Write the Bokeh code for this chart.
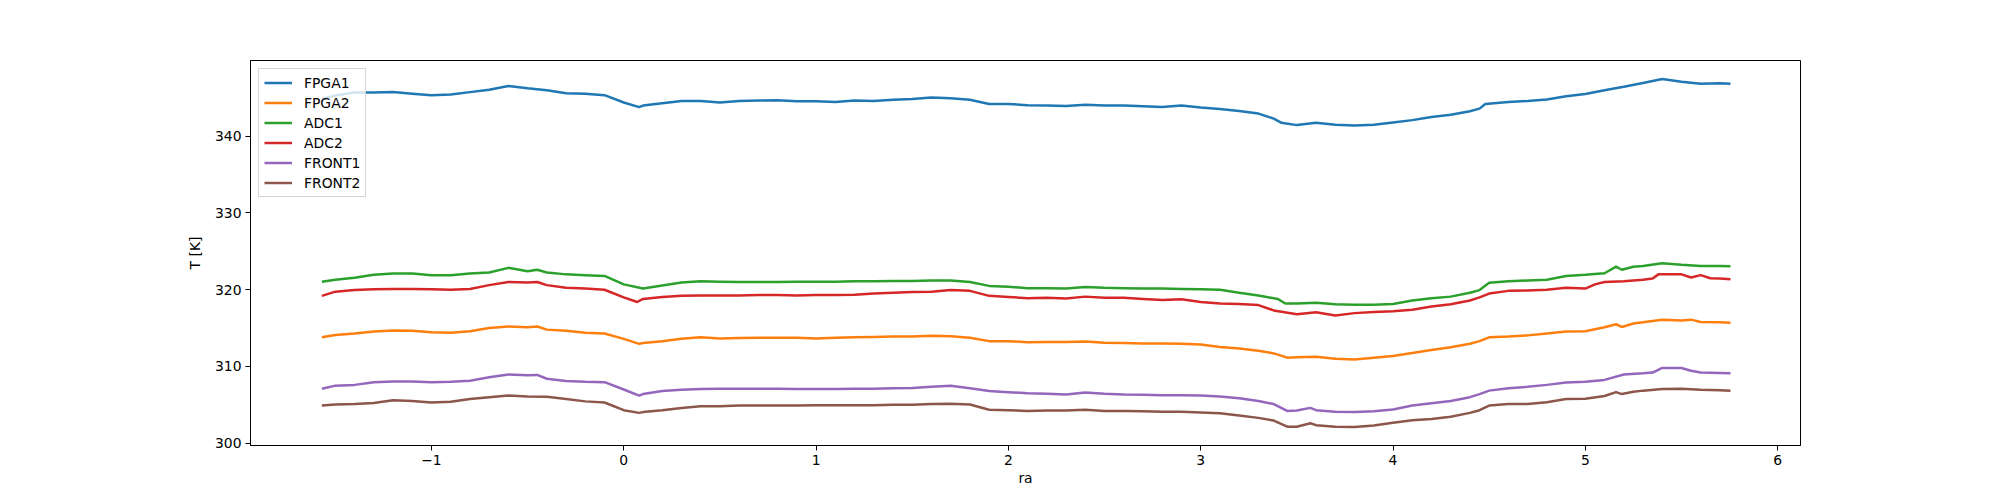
from bokeh.plotting import figure
from bokeh.models import Range1d, FixedTicker
from bokeh.embed import file_html
from bokeh.resources import INLINE

# ---------------- data ----------------
ra_fpga1 = [-1.57, -1.5, -1.4, -1.3, -1.2, -1.1, -1.0, -0.9, -0.8, -0.7, -0.6, -0.5, -0.4, -0.3, -0.2, -0.1,
            0.0, 0.08, 0.1, 0.2, 0.3, 0.4, 0.5, 0.6, 0.7, 0.8, 0.9, 1.0, 1.1, 1.2, 1.3, 1.4, 1.5, 1.6, 1.7,
            1.8, 1.9, 2.0, 2.1, 2.2, 2.3, 2.4, 2.5, 2.6, 2.7, 2.8, 2.9, 3.0, 3.1, 3.2, 3.3, 3.38, 3.42, 3.5,
            3.6, 3.7, 3.8, 3.9, 4.0, 4.1, 4.2, 4.3, 4.4, 4.45, 4.48, 4.6, 4.7, 4.8, 4.9, 5.0, 5.1, 5.2, 5.3,
            5.4, 5.5, 5.6, 5.7, 5.755]
t_fpga1 = [344.9, 345.3, 345.7, 345.7, 345.75, 345.55, 345.35, 345.45, 345.75, 346.05, 346.55, 346.25, 346.0,
           345.6, 345.55, 345.35, 344.4, 343.8, 344.0, 344.3, 344.6, 344.6, 344.4, 344.6, 344.65, 344.7,
           344.55, 344.55, 344.45, 344.65, 344.6, 344.75, 344.85, 345.05, 344.95, 344.75, 344.2, 344.2,
           344.05, 344.0, 343.95, 344.1, 344.0, 344.0, 343.9, 343.8, 344.0, 343.75, 343.55, 343.3, 342.95,
           342.3, 341.75, 341.45, 341.75, 341.5, 341.4, 341.5, 341.8, 342.1, 342.5, 342.8, 343.25, 343.6,
           344.2, 344.45, 344.6, 344.8, 345.2, 345.5, 346.0, 346.45, 346.95, 347.45, 347.1, 346.85, 346.9,
           346.85]

ra_fpga2 = [-1.57, -1.5, -1.4, -1.3, -1.2, -1.1, -1.0, -0.9, -0.8, -0.7, -0.6, -0.5, -0.45, -0.4, -0.3, -0.2,
            -0.1, 0.0, 0.08, 0.1, 0.2, 0.3, 0.4, 0.5, 0.6, 0.7, 0.8, 0.9, 1.0, 1.1, 1.2, 1.3, 1.4, 1.5, 1.6,
            1.7, 1.8, 1.9, 2.0, 2.1, 2.2, 2.3, 2.4, 2.5, 2.6, 2.7, 2.8, 2.9, 3.0, 3.1, 3.2, 3.3, 3.38, 3.45,
            3.5, 3.6, 3.7, 3.8, 3.9, 4.0, 4.1, 4.2, 4.3, 4.4, 4.45, 4.5, 4.6, 4.7, 4.8, 4.9, 5.0, 5.1, 5.16,
            5.19, 5.25, 5.3, 5.4, 5.5, 5.55, 5.6, 5.7, 5.755]
t_fpga2 = [313.8, 314.1, 314.3, 314.55, 314.7, 314.65, 314.45, 314.4, 314.6, 315.0, 315.2, 315.1, 315.2,
           314.8, 314.65, 314.4, 314.3, 313.6, 312.95, 313.05, 313.3, 313.6, 313.8, 313.65, 313.7, 313.75,
           313.75, 313.75, 313.65, 313.75, 313.8, 313.85, 313.9, 313.9, 314.0, 313.95, 313.75, 313.3, 313.3,
           313.15, 313.2, 313.2, 313.25, 313.1, 313.05, 313.0, 313.0, 312.95, 312.85, 312.55, 312.35, 312.05,
           311.7, 311.15, 311.2, 311.25, 311.0, 310.9, 311.15, 311.35, 311.75, 312.15, 312.5, 312.95, 313.3,
           313.8, 313.9, 314.05, 314.3, 314.55, 314.6, 315.1, 315.5, 315.15, 315.6, 315.75, 316.1, 316.0,
           316.1, 315.8, 315.75, 315.7]

ra_adc1 = [-1.57, -1.5, -1.4, -1.3, -1.2, -1.1, -1.0, -0.9, -0.8, -0.7, -0.6, -0.5, -0.45, -0.4, -0.3, -0.2,
           -0.1, -0.05, 0.0, 0.1, 0.2, 0.3, 0.4, 0.5, 0.6, 0.7, 0.8, 0.9, 1.0, 1.1, 1.2, 1.3, 1.4, 1.5, 1.6,
           1.7, 1.8, 1.9, 2.0, 2.1, 2.2, 2.3, 2.4, 2.5, 2.6, 2.7, 2.8, 2.9, 3.0, 3.1, 3.2, 3.3, 3.4, 3.44,
           3.5, 3.6, 3.7, 3.8, 3.9, 4.0, 4.1, 4.2, 4.3, 4.4, 4.45, 4.5, 4.6, 4.7, 4.8, 4.9, 5.0, 5.1, 5.16,
           5.19, 5.25, 5.3, 5.4, 5.5, 5.6, 5.7, 5.755]
t_adc1 = [321.05, 321.3, 321.55, 321.95, 322.1, 322.1, 321.9, 321.9, 322.1, 322.25, 322.85, 322.4, 322.6,
          322.25, 322.0, 321.9, 321.8, 321.25, 320.7, 320.15, 320.55, 320.95, 321.1, 321.05, 321.0, 321.0,
          321.0, 321.05, 321.05, 321.05, 321.1, 321.1, 321.15, 321.15, 321.2, 321.2, 321.0, 320.5, 320.4,
          320.2, 320.2, 320.15, 320.35, 320.25, 320.2, 320.15, 320.15, 320.1, 320.05, 320.0, 319.6, 319.25,
          318.8, 318.2, 318.2, 318.3, 318.1, 318.05, 318.05, 318.15, 318.6, 318.9, 319.1, 319.6, 319.95,
          320.9, 321.1, 321.2, 321.3, 321.8, 321.95, 322.15, 323.0, 322.6, 323.0, 323.1, 323.45, 323.25,
          323.1, 323.1, 323.05]

ra_adc2 = [-1.57, -1.5, -1.4, -1.3, -1.2, -1.1, -1.0, -0.9, -0.8, -0.7, -0.6, -0.5, -0.45, -0.4, -0.3, -0.2,
           -0.1, 0.0, 0.07, 0.1, 0.2, 0.3, 0.4, 0.5, 0.6, 0.7, 0.8, 0.9, 1.0, 1.1, 1.2, 1.3, 1.4, 1.5, 1.6,
           1.7, 1.8, 1.9, 2.0, 2.1, 2.2, 2.3, 2.4, 2.5, 2.6, 2.7, 2.8, 2.9, 3.0, 3.1, 3.2, 3.3, 3.38, 3.5,
           3.6, 3.7, 3.8, 3.9, 4.0, 4.1, 4.2, 4.3, 4.4, 4.45, 4.5, 4.6, 4.7, 4.8, 4.9, 5.0, 5.05, 5.1, 5.2,
           5.3, 5.35, 5.38, 5.5, 5.55, 5.6, 5.65, 5.7, 5.755]
t_adc2 = [319.2, 319.75, 319.95, 320.05, 320.1, 320.1, 320.05, 320.0, 320.1, 320.6, 321.0, 320.95, 321.0,
          320.6, 320.25, 320.15, 320.0, 319.0, 318.4, 318.8, 319.05, 319.2, 319.25, 319.25, 319.25, 319.3,
          319.3, 319.25, 319.3, 319.3, 319.35, 319.5, 319.6, 319.7, 319.75, 319.95, 319.85, 319.2, 319.05,
          318.9, 318.95, 318.85, 319.1, 318.95, 318.95, 318.8, 318.65, 318.75, 318.4, 318.2, 318.15, 318.0,
          317.3, 316.8, 317.05, 316.65, 316.95, 317.1, 317.2, 317.4, 317.8, 318.1, 318.6, 319.0, 319.5,
          319.85, 319.9, 320.0, 320.25, 320.15, 320.7, 321.0, 321.1, 321.3, 321.45, 322.0, 322.0, 321.6,
          321.9, 321.5, 321.45, 321.35]

ra_front1 = [-1.57, -1.5, -1.4, -1.3, -1.2, -1.1, -1.0, -0.9, -0.8, -0.7, -0.6, -0.5, -0.45, -0.4, -0.3, -0.2,
             -0.1, 0.0, 0.08, 0.1, 0.2, 0.3, 0.4, 0.5, 0.6, 0.7, 0.8, 0.9, 1.0, 1.1, 1.2, 1.3, 1.4, 1.5, 1.6,
             1.7, 1.8, 1.9, 2.0, 2.1, 2.2, 2.3, 2.4, 2.5, 2.6, 2.7, 2.8, 2.9, 3.0, 3.1, 3.2, 3.3, 3.38, 3.45,
             3.5, 3.57, 3.6, 3.7, 3.8, 3.9, 4.0, 4.1, 4.2, 4.3, 4.4, 4.45, 4.5, 4.6, 4.7, 4.8, 4.9, 5.0, 5.1,
             5.2, 5.3, 5.35, 5.4, 5.5, 5.55, 5.6, 5.7, 5.755]
t_front1 = [307.1, 307.5, 307.6, 307.95, 308.05, 308.05, 307.95, 308.0, 308.15, 308.6, 308.95, 308.85, 308.9,
            308.4, 308.1, 308.0, 307.95, 307.0, 306.2, 306.4, 306.8, 306.95, 307.05, 307.1, 307.1, 307.1,
            307.1, 307.05, 307.05, 307.05, 307.1, 307.1, 307.15, 307.2, 307.35, 307.5, 307.15, 306.8, 306.65,
            306.5, 306.45, 306.35, 306.6, 306.45, 306.35, 306.3, 306.25, 306.25, 306.2, 306.1, 305.85, 305.5,
            305.1, 304.2, 304.25, 304.6, 304.3, 304.1, 304.05, 304.15, 304.4, 304.9, 305.2, 305.5, 306.0,
            306.4, 306.85, 307.15, 307.35, 307.6, 307.9, 308.0, 308.25, 308.95, 309.1, 309.2, 309.8, 309.8,
            309.45, 309.2, 309.15, 309.1]

ra_front2 = [-1.57, -1.5, -1.4, -1.3, -1.2, -1.1, -1.0, -0.9, -0.8, -0.7, -0.6, -0.5, -0.4, -0.3, -0.2, -0.1,
             0.0, 0.08, 0.1, 0.2, 0.3, 0.4, 0.5, 0.6, 0.7, 0.8, 0.9, 1.0, 1.1, 1.2, 1.3, 1.4, 1.5, 1.6, 1.7,
             1.8, 1.9, 2.0, 2.1, 2.2, 2.3, 2.4, 2.5, 2.6, 2.7, 2.8, 2.9, 3.0, 3.1, 3.2, 3.3, 3.38, 3.45, 3.5,
             3.57, 3.6, 3.7, 3.8, 3.9, 4.0, 4.1, 4.2, 4.3, 4.4, 4.45, 4.5, 4.6, 4.7, 4.8, 4.9, 5.0, 5.1, 5.16,
             5.19, 5.25, 5.3, 5.4, 5.5, 5.6, 5.7, 5.755]
t_front2 = [304.9, 305.05, 305.1, 305.25, 305.6, 305.5, 305.3, 305.4, 305.75, 306.0, 306.2, 306.1, 306.05,
            305.75, 305.45, 305.3, 304.3, 303.95, 304.05, 304.3, 304.6, 304.8, 304.8, 304.9, 304.9, 304.9,
            304.9, 304.95, 304.95, 304.95, 304.95, 305.0, 305.0, 305.1, 305.15, 305.05, 304.35, 304.3, 304.2,
            304.25, 304.25, 304.35, 304.2, 304.2, 304.15, 304.1, 304.1, 304.0, 303.9, 303.6, 303.3, 302.95,
            302.15, 302.15, 302.6, 302.35, 302.15, 302.1, 302.3, 302.65, 303.0, 303.15, 303.45, 303.95, 304.3,
            304.9, 305.1, 305.1, 305.35, 305.75, 305.8, 306.15, 306.65, 306.4, 306.7, 306.85, 307.05, 307.1,
            306.95, 306.9, 306.85]

series_names = ["FPGA1", "FPGA2", "ADC1", "ADC2", "FRONT1", "FRONT2"]
series_colors = ["#1f77b4", "#ff7f0e", "#2ca02c", "#d62728", "#9467bd", "#8c564b"]
x_ticks = [-1, 0, 1, 2, 3, 4, 5, 6]
y_ticks = [300, 310, 320, 330, 340]

# ---------------- figure ----------------
FONT = "DejaVu Sans"
p = figure(frame_width=1550, frame_height=385,
           min_border_left=250, min_border_right=190, min_border_top=60, min_border_bottom=50,
           x_range=Range1d(-1.941, 6.119), y_range=Range1d(299.70, 349.87),
           output_backend="svg", toolbar_location=None, background_fill_color="white",
           border_fill_color="white")

xs = [ra_fpga1, ra_fpga2, ra_adc1, ra_adc2, ra_front1, ra_front2]
ys = [t_fpga1, t_fpga2, t_adc1, t_adc2, t_front1, t_front2]
for x, y, name, col in zip(xs, ys, series_names, series_colors):
    p.line(x, y, line_color=col, line_width=2.5, legend_label=name)

p.grid.visible = False
p.outline_line_color = "black"
p.outline_line_width = 1
p.outline_line_alpha = 1

p.xaxis.ticker = FixedTicker(ticks=x_ticks)
p.yaxis.ticker = FixedTicker(ticks=y_ticks)
p.xaxis.major_label_overrides = {-1: "\u22121"}
p.xaxis.axis_label = "ra"
p.yaxis.axis_label = "T [K]"
for ax in (p.xaxis, p.yaxis):
    ax.axis_line_color = "black"
    ax.major_tick_line_color = "black"
    ax.major_tick_out = 5
    ax.major_tick_in = 0
    ax.minor_tick_line_color = None
    ax.major_label_text_font = FONT
    ax.major_label_text_font_size = "13.9px"
    ax.major_label_text_color = "black"
    ax.axis_label_text_font = FONT
    ax.axis_label_text_font_size = "13.9px"
    ax.axis_label_text_font_style = "normal"
    ax.axis_label_text_color = "black"
    ax.major_label_standoff = 4
p.xaxis.axis_label_standoff = 2
p.yaxis.axis_label_standoff = 9

lg = p.legend[0]
lg.location = "top_left"
lg.margin = 8
lg.padding = 5
lg.spacing = 3
lg.glyph_width = 28
lg.glyph_height = 17
lg.label_height = 17
lg.label_standoff = 12
lg.label_text_font = FONT
lg.label_text_font_size = "13.9px"
lg.label_text_color = "black"
lg.border_line_color = "#cccccc"
lg.border_line_alpha = 0.8
lg.background_fill_color = "white"
lg.background_fill_alpha = 0.8

open("out.html", "w").write(file_html(p, INLINE))
